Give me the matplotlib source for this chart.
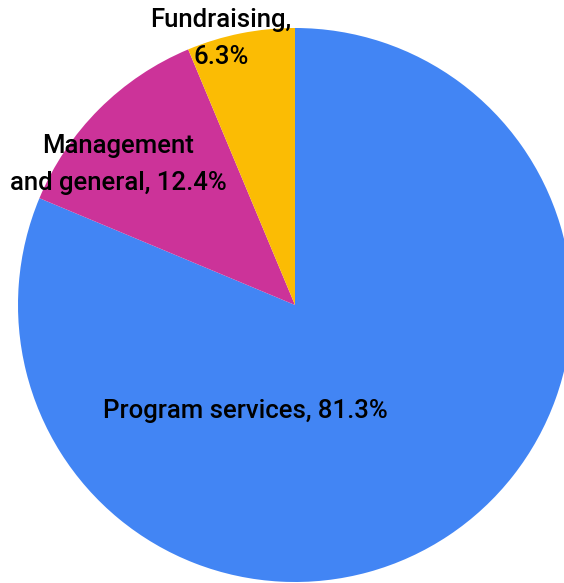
import matplotlib.pyplot as plt

# Data
labels = ["Program services", "Management\nand general", "Fundraising,\n"]
shares = [81.3, 12.4, 6.3]
colors = ["#4285F4", "#CC3399", "#FBBC04"]

fig = plt.figure(figsize=(5.64, 5.83), dpi=100)
ax = fig.add_axes([0, 0, 1, 1])

ax.pie(shares, colors=colors, startangle=90, counterclock=False,
       radius=1.0, center=(0, 0))

# Label positions (data units, radius = 1)
font = dict(family=["Roboto", "DejaVu Sans"], fontsize=18.5, fontweight="medium",
            color="black", ha="center", va="center", linespacing=1.65)
ax.text(-0.18, -0.383, f"Program services, {shares[0]}%", **font)
ax.text(-0.639, 0.507, f"Management\nand general, {shares[1]}%", **font)
ax.text(-0.267, 0.962, f"Fundraising,\n{shares[2]}%", **font)

ax.set_xlim(-295 / 277, 269 / 277)
ax.set_ylim(-278 / 277, 305 / 277)
ax.set_aspect("equal")
ax.axis("off")

fig.savefig("out.png", dpi=100)
